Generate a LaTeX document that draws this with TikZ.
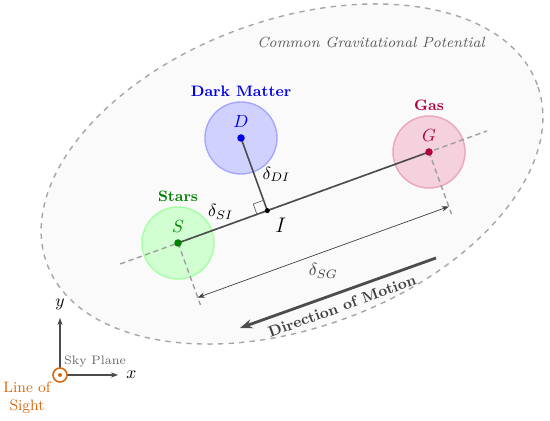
\documentclass[tikz,border=0pt]{standalone}
\usetikzlibrary{calc,arrows.meta}

\definecolor{starcol}{RGB}{0,128,0}
\definecolor{darkcol}{RGB}{0,0,230}
\definecolor{gascol}{RGB}{175,0,60}
\definecolor{sightcol}{RGB}{215,105,15}

\newcommand\compnamestyle{\fontsize{8.6}{10}\selectfont\bfseries}
\newcommand\comprad{0.72}
\newcommand\compdisc[2]{
  \filldraw[fill=#2!18, draw=#2!35, thick] (#1) circle (\comprad) ;
}
\newcommand\complabel[3]{
  \fill[#2] (#1) circle (0.075) ;
  \node[text=#2] (#1let) at ($(#1)+(0,0.34)$) {$#1$} ;
  \node[text=#2, font=\compnamestyle] (#1name) at ($(#1)+(0,0.93)$) {#3} ;
}

\tikzset{
  guide/.style={gray!75, line width=0.8pt, dash pattern=on 3pt off 2pt},
  sep/.style={black!70, line width=0.9pt},
  axis/.style={black!70, thick, -{Stealth[length=4pt]}}
}

\begin{document}
\begin{tikzpicture}
  \useasboundingbox (0,0) rectangle (11,8.4) ;
  \filldraw[fill=black!2, draw=gray!70, dashed, thick, rotate around={20:(5.84,4.92)}]
    (5.84,4.92) ellipse (5.22 and 3.08) ;
  \node[text=black!65, font=\fontsize{8.4}{10}\selectfont\itshape] (pot) at (7.42,7.56) {Common Gravitational Potential} ;

  \coordinate (S) at (3.56,3.54) ;
  \coordinate (G) at (8.58,5.36) ;
  \coordinate (D) at (4.82,5.64) ;
  \coordinate (I) at ($(S)!(D)!(G)$) ;

  \compdisc{S}{green}
  \compdisc{D}{blue}
  \compdisc{G}{purple}

  \draw[guide] ($(S)!-0.23!(G)$) -- ($(S)!1.23!(G)$) ;
  \draw[guide] (S) -- ($(S)!1.32cm!-90:(G)$) ;
  \draw[guide] (G) -- ($(G)!1.32cm!90:(S)$) ;

  \coordinate (sgA) at ($(S)!1.16cm!-90:(G)$) ;
  \coordinate (sgB) at ($(G)!1.16cm!90:(S)$) ;
  \draw[black!75, {Stealth[length=4pt]}-{Stealth[length=4pt]}] (sgA) -- (sgB)
    node[midway, below=3pt, text=black!75] (dsg) {$\delta_{SG}$} ;

  \draw[sep] (S) -- (G) node[pos=0.17, above=1pt, text=black] (dsi) {$\delta_{SI}$} ;
  \draw[sep] (D) -- (I) node[midway, right=1pt, text=black] (ddi) {$\delta_{DI}$} ;
  \coordinate (ra1) at ($(I)!0.22cm!(S)$) ;
  \coordinate (ra2) at ($(I)!0.22cm!(D)$) ;
  \draw[black!60, thin] (ra1) -- ($(ra1)+(ra2)-(I)$) -- (ra2) ;
  \fill (I) circle (0.05) ;
  \node[font=\large, below right=1pt] (Ilet) at (I) {$I$} ;

  \complabel{S}{starcol}{Stars}
  \complabel{D}{darkcol}{Dark Matter}
  \complabel{G}{gascol}{Gas}

  \coordinate (motA) at (8.72,3.24) ;
  \coordinate (motB) at (4.80,1.84) ;
  \draw[black!70, line width=1.6pt, -{Stealth[length=7pt]}] (motA) -- (motB) ;
  \node[rotate=20, text=black!75, font=\fontsize{8.6}{10}\selectfont\bfseries] (motion) at (6.84,2.28) {Direction of Motion} ;

  \coordinate (O) at (1.20,0.90) ;
  \coordinate (yend) at (1.20,2.04) ;
  \coordinate (xend) at (2.36,0.90) ;
  \draw[axis] ($(O)+(0,0.14)$) -- (yend) node[above=1pt, text=black] (ylab) {$y$} ;
  \draw[axis] ($(O)+(0.14,0)$) -- (xend) node[right=1pt, text=black] (xlab) {$x$} ;
  \draw[sightcol, line width=0.9pt] (O) circle (0.14) ;
  \fill[sightcol] (O) circle (0.04) ;
  \node[text=black!60, font=\scriptsize] (sky) at (1.90,1.18) {Sky Plane} ;
  \node[text=sightcol, font=\fontsize{8.6}{10.4}\selectfont, align=center] (los) at (0.54,0.44) {Line of\\Sight} ;
\end{tikzpicture}
\end{document}
